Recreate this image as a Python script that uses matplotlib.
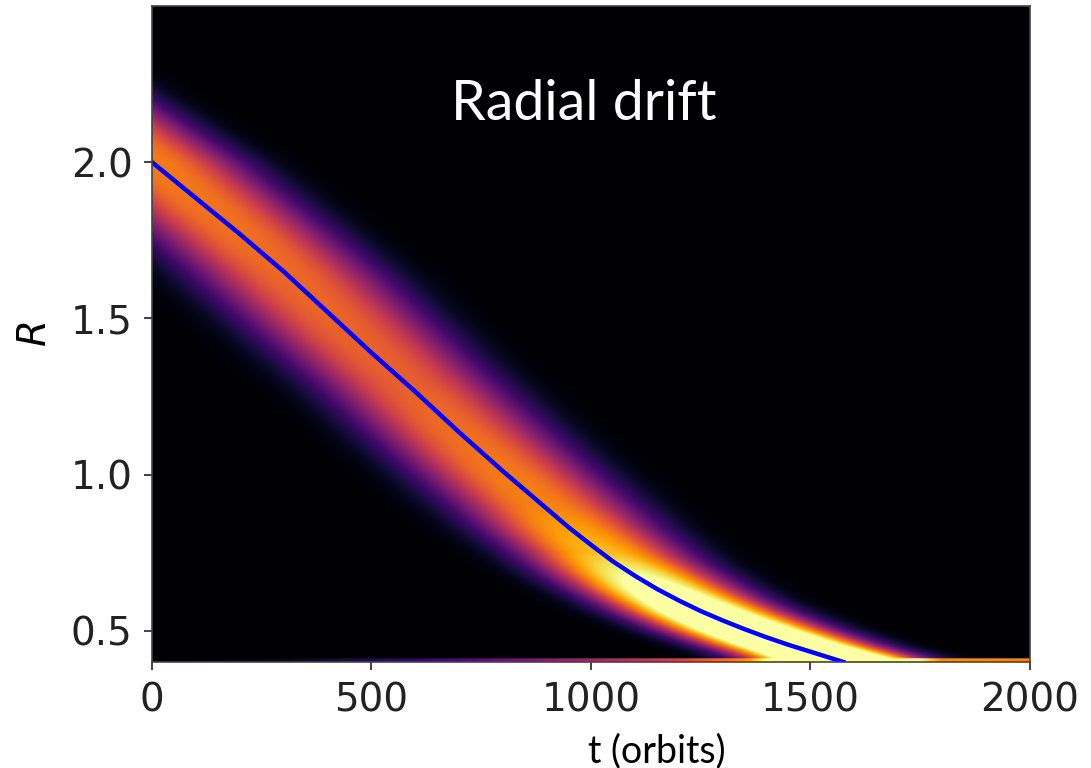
import numpy as np
import matplotlib
matplotlib.use('Agg')
import matplotlib.pyplot as plt

# centre of the drifting ring
line_t = [0, 100, 200, 300, 400, 500, 600, 700, 800, 850, 900, 950, 1000, 1050, 1100,
          1150, 1200, 1250, 1300, 1350, 1400, 1450, 1500, 1575]
line_r = [2.00, 1.885, 1.77, 1.65, 1.52, 1.39, 1.265, 1.135, 1.01, 0.95, 0.89, 0.83, 0.775,
          0.722, 0.676, 0.634, 0.597, 0.563, 0.533, 0.505, 0.479, 0.455, 0.433, 0.40]
top_drift_rate = 1.0e-3  # dR/dt above R=2 (per orbit)

# band brightness (colour value at the centre) and half width in orbits, by radius
band_r = [0.40, 0.44, 0.50, 0.60, 0.75, 0.90, 1.30, 1.60, 2.00, 2.30]
band_peak = [1.55, 1.45, 1.35, 1.15, 0.85, 0.73, 0.64, 0.66, 0.71, 0.72]
band_halfwidth = [280, 270, 270, 270, 285, 300, 305, 315, 300, 270]

# pile-up at the inner boundary (bottom row)
strip_t = [0, 300, 500, 700, 900, 1000, 1200, 1350, 1400, 1750, 1800, 2000]
strip_c = [0.0, 0.05, 0.12, 0.22, 0.35, 0.42, 0.55, 0.75, 1.0, 1.0, 0.75, 0.72]

x_ticks = [0, 500, 1000, 1500, 2000]
y_ticks = [0.5, 1.0, 1.5, 2.0]
t_min, t_max = 0, 2000
r_min, r_max = 0.4, 2.5

# build the image
tt = np.linspace(t_min, t_max, 900)
rr = np.linspace(r_min, r_max, 700)
T, R = np.meshgrid(tt, rr)

r_up = np.array(line_r)[::-1]
t_up = np.array(line_t)[::-1]
tau = np.interp(rr, r_up, t_up)
tau = np.where(rr > line_r[0], -(rr - line_r[0]) / top_drift_rate, tau)
peak = np.interp(rr, band_r, band_peak)
width = np.interp(rr, band_r, band_halfwidth)

u = np.abs(T - tau[:, None]) / (0.66 * width[:, None])
img = peak[:, None] * np.exp(-u ** 2.5)
bottom = rr < 0.41
img[bottom, :] = np.maximum(img[bottom, :], np.interp(tt, strip_t, strip_c)[None, :])

fig = plt.figure(figsize=(10.91, 7.68), dpi=100)
ax = fig.add_axes([152 / 1091, 1 - 662 / 768, (1030 - 152) / 1091, (662 - 6) / 768])
ax.imshow(img, origin='lower', aspect='auto', cmap='inferno', vmin=0, vmax=1,
          extent=[t_min, t_max, r_min, r_max], interpolation='bilinear')
ax.plot(line_t, line_r, color='blue', lw=3.2)
ax.set_xlim(t_min, t_max)
ax.set_ylim(r_min, r_max)
ax.set_xticks(x_ticks)
ax.set_yticks(y_ticks)
ax.tick_params(labelsize=28, length=6, width=1.2, pad=8, colors='#222222')
for sp in ax.spines.values():
    sp.set_color('#444444')
    sp.set_linewidth(1.2)
ax.set_ylabel('$R$', fontsize=28, labelpad=12)

fig.text(584 / 1091, 1 - 120 / 768, 'Radial drift', color='white', fontsize=40,
         family='Lato', ha='center', va='baseline')
fig.text(657 / 1091, 1 - 762 / 768, 't (orbits)', color='black', fontsize=27,
         family='Lato', ha='center', va='baseline')

fig.savefig('out.png', dpi=100)
